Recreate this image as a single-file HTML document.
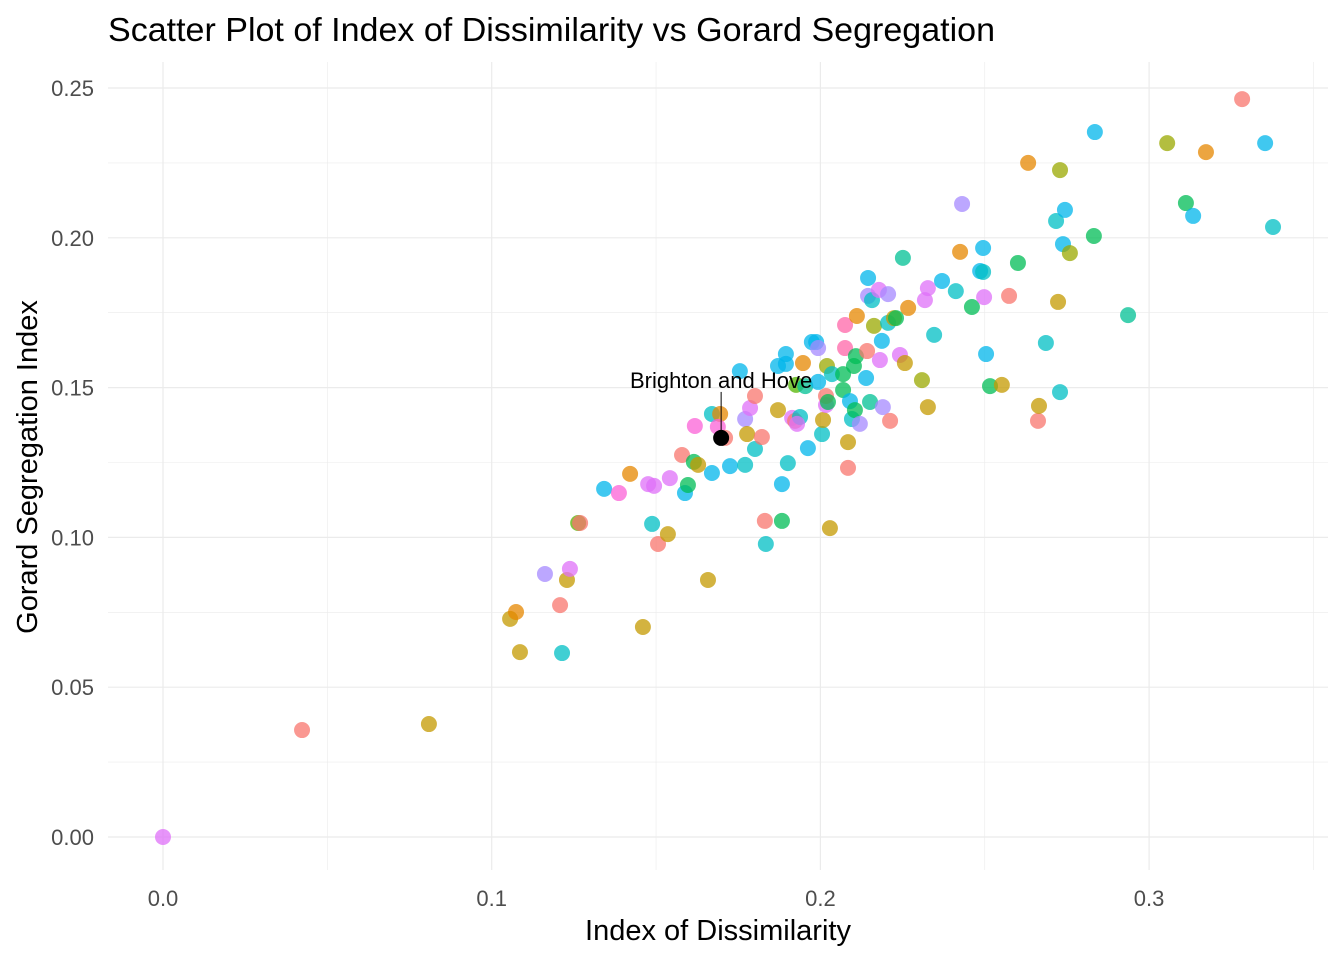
<!DOCTYPE html>
<html><head><meta charset="utf-8"><style>
html,body{margin:0;padding:0;background:#fff;}
svg{display:block;font-family:"Liberation Sans",Arial,sans-serif;}
</style></head><body>
<svg id="chart" width="1344" height="960" viewBox="0 0 1344 960">
<text x="108" y="41" font-size="33" textLength="887" lengthAdjust="spacingAndGlyphs" fill="#000">Scatter Plot of Index of Dissimilarity vs Gorard Segregation</text>
<g id="grid"></g>
<g id="xticks"></g>
<g id="yticks"></g>
<g id="points"></g>
<g id="annot"></g>
<text x="718" y="940" font-size="29" text-anchor="middle" fill="#000">Index of Dissimilarity</text>
<text transform="translate(37,467) rotate(-90)" font-size="29" text-anchor="middle" fill="#000">Gorard Segregation Index</text>
</svg>
<script>
const xVals=[0.000,0.0423,0.0809,0.1056,0.1074,0.1086,0.1162,0.1208,0.1214,0.1229,0.1238,0.1263,0.1269,0.1342,0.1387,0.1421,0.1460,0.1476,0.1494,0.1488,0.1506,0.1536,0.1542,0.1579,0.1588,0.1597,0.1618,0.1615,0.1628,0.1658,0.1670,0.1670,0.1695,0.1688,0.1710,0.1725,0.1755,0.1771,0.1771,0.1777,0.1786,0.1801,0.1801,0.1822,0.1831,0.1834,0.1871,0.1871,0.1883,0.1883,0.1895,0.1895,0.1901,0.1914,0.1923,0.1926,0.1938,0.1929,0.1947,0.1954,0.1962,0.1974,0.1987,0.1993,0.1993,0.2005,0.2008,0.2017,0.2017,0.2020,0.2023,0.2029,0.2035,0.2069,0.2069,0.2075,0.2075,0.2084,0.2084,0.2090,0.2096,0.2102,0.2108,0.2105,0.2111,0.2120,0.2139,0.2142,0.2145,0.2145,0.2157,0.2151,0.2163,0.2178,0.2181,0.2187,0.2190,0.2206,0.2206,0.2212,0.2224,0.2230,0.2242,0.2251,0.2257,0.2267,0.2309,0.2318,0.2327,0.2327,0.2346,0.2370,0.2412,0.2425,0.2431,0.2461,0.2486,0.2495,0.2495,0.2498,0.2504,0.2516,0.2552,0.2574,0.2601,0.2632,0.2662,0.2665,0.2686,0.2717,0.2723,0.2729,0.2729,0.2738,0.2744,0.2759,0.2832,0.2835,0.2936,0.3055,0.3112,0.3134,0.3173,0.3283,0.3353,0.3377];
const yVals=[0.000,0.0357,0.0377,0.0728,0.0751,0.0617,0.0878,0.0774,0.0614,0.0858,0.0895,0.1048,0.1048,0.1162,0.1148,0.1212,0.0701,0.1178,0.1172,0.1045,0.0978,0.1011,0.1198,0.1275,0.1148,0.1175,0.1372,0.1252,0.1242,0.0858,0.1412,0.1215,0.1412,0.1369,0.1332,0.1238,0.1555,0.1242,0.1395,0.1345,0.1432,0.1472,0.1295,0.1335,0.1055,0.0978,0.1572,0.1425,0.1178,0.1055,0.1612,0.1579,0.1248,0.1399,0.1389,0.1509,0.1402,0.1379,0.1582,0.1505,0.1298,0.1652,0.1652,0.1632,0.1519,0.1345,0.1392,0.1442,0.1472,0.1572,0.1452,0.1031,0.1545,0.1545,0.1492,0.1709,0.1632,0.1318,0.1232,0.1455,0.1395,0.1572,0.1605,0.1425,0.1739,0.1379,0.1532,0.1622,0.1866,0.1806,0.1792,0.1452,0.1706,0.1826,0.1592,0.1656,0.1435,0.1716,0.1812,0.1389,0.1732,0.1732,0.1609,0.1933,0.1582,0.1766,0.1525,0.1792,0.1832,0.1435,0.1676,0.1856,0.1822,0.1953,0.2113,0.1769,0.1889,0.1966,0.1886,0.1802,0.1612,0.1505,0.1509,0.1806,0.1916,0.2250,0.1389,0.1439,0.1649,0.2056,0.1786,0.2226,0.1485,0.1979,0.2093,0.1949,0.2006,0.2353,0.1742,0.2316,0.2116,0.2073,0.2286,0.2463,0.2316,0.2036];
const groups=[11,0,2,2,1,2,10,0,7,2,11,4,0,8,12,1,2,11,11,7,0,2,11,0,8,5,12,5,2,2,7,8,1,12,0,8,8,7,10,2,11,0,7,0,0,7,8,2,8,5,8,8,7,11,0,4,7,11,1,6,8,8,8,10,8,7,2,11,0,3,5,2,7,5,5,13,13,2,0,8,7,5,5,5,1,10,8,0,8,10,7,6,3,11,11,8,10,7,10,0,2,5,11,6,2,1,3,11,11,2,7,8,7,1,10,5,8,8,7,11,8,5,2,0,5,1,0,2,7,7,2,3,7,8,8,3,5,8,6,3,5,8,1,0,8,7];
const palette=["#F8766D","#E58700","#C49A00","#99A800","#53B400","#00BC56","#00C094","#00BFC4","#00B6EB","#06A4FF","#A58AFF","#DF70F8","#FB61D7","#FF66A8"];
const xTicks=[0,0.1,0.2,0.3];
const xTickLabels=["0.0","0.1","0.2","0.3"];
const yTicks=[0,0.05,0.10,0.15,0.20,0.25];
const yTickLabels=["0.00","0.05","0.10","0.15","0.20","0.25"];
const labelX=0.1698, labelY=0.1332, labelText="Brighton and Hove";

const NS="http://www.w3.org/2000/svg";
const L=108,R=1328,T=62,B=870;
const X=v=>163+v*3287;
const Y=v=>837-v*2996;
function mk(tag,attrs,parent){const e=document.createElementNS(NS,tag);for(const k in attrs)e.setAttribute(k,attrs[k]);parent.appendChild(e);return e;}
const grid=document.getElementById('grid');
for(let v=-0.05;v<=0.36;v+=0.05){const px=X(v);if(px<L||px>R)continue;
 const major=Math.abs(Math.round(v*10)-v*10)<1e-6;
 const l=mk('line',{x1:px,x2:px,y1:T,y2:B,stroke:'#ebebeb','stroke-width':major?1.2:0.6},grid);
 
 }
for(let v=-0.025;v<=0.27;v+=0.025){const py=Y(v);if(py<T||py>B)continue;
 const major=Math.abs(Math.round(v*20)-v*20)<1e-6;
 const l=mk('line',{x1:L,x2:R,y1:py,y2:py,stroke:'#ebebeb','stroke-width':major?1.2:0.6},grid);
 
 }
const xt=document.getElementById('xticks');
xTicks.forEach((v,i)=>{const t=mk('text',{x:X(v),y:906,'font-size':22,fill:'#4d4d4d','text-anchor':'middle'},xt);t.textContent=xTickLabels[i];
 
 });
const yt=document.getElementById('yticks');
yTicks.forEach((v,i)=>{const t=mk('text',{x:94,y:Y(v)+8,'font-size':22,fill:'#4d4d4d','text-anchor':'end'},yt);t.textContent=yTickLabels[i];
 
 });
const pts=document.getElementById('points');
xVals.forEach((v,i)=>{const c=mk('circle',{cx:X(v),cy:Y(yVals[i]),r:8,fill:palette[groups[i]%palette.length],'fill-opacity':0.75},pts);
 
 });
const an=document.getElementById('annot');
const ln=mk('line',{x1:X(labelX),x2:X(labelX),y1:Y(labelY)-46,y2:Y(labelY)-6,stroke:'#000','stroke-width':1},an);


const bp=mk('circle',{cx:X(labelX),cy:Y(labelY),r:8,fill:'#000'},an);


const bt=mk('text',{x:X(labelX),y:Y(labelY)-50,'font-size':22,fill:'#000','text-anchor':'middle'},an);
bt.textContent=labelText;


</script>
</body></html>
